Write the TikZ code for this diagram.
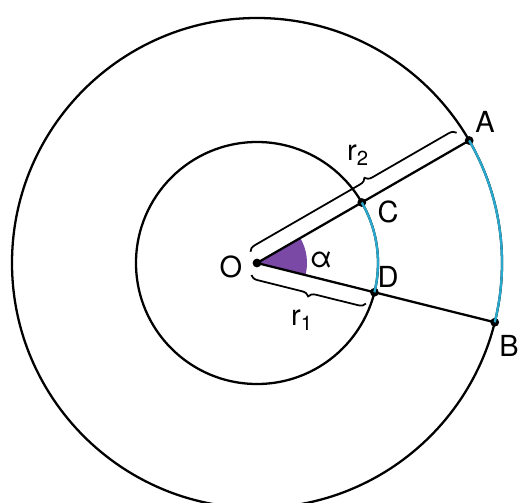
\documentclass[tikz,border=0pt]{standalone}
\usepackage{fontspec}
\setmainfont{TeX Gyre Heros}
\usetikzlibrary{calc,decorations.pathreplacing}
\definecolor{arccyan}{RGB}{40,168,205}
\definecolor{anglepurple}{RGB}{122,72,165}
\tikzset{
  lbl/.style={font=\fontsize{16.5}{18}\selectfont, inner sep=0pt},
  dot/.style={circle, fill=black, inner sep=0pt, minimum size=5pt},
  radbrace/.style={decorate, decoration={brace, amplitude=4pt, aspect=#1}, line width=1pt},
}
\begin{document}
\begin{tikzpicture}[line width=1.3pt]
  \clip (-5.14,-4.78) rectangle (5.32,5.26);
  \coordinate (O) at (0,0);
  % circles and angle
  \draw (O) circle (4.9);
  \draw (O) circle (2.42);
  \fill[anglepurple] (O) -- (-14:1) arc (-14:30:1) -- cycle;
  % points
  \node[dot] (A) at (30:4.9) {};
  \node[dot] (B) at (-14:4.9) {};
  \node[dot] (C) at (30:2.42) {};
  \node[dot] (D) at (-14:2.42) {};
  \draw (O) -- (A.center);
  \draw (O) -- (B.center);
  \draw[arccyan] (D.center) arc (-14:30:2.42);
  \draw[arccyan] (B.center) arc (-14:30:4.9);
  \node[dot] (pO) at (O) {};
  % dimension braces
  \coordinate (r2s) at ($(O)+(120:0.26)$);
  \coordinate (r2e) at ($(30:4.76)+(120:0.26)$);
  \coordinate (r1s) at ($(-14:2.31)+(-104:0.26)$);
  \coordinate (r1e) at ($(-14:-0.05)+(-104:0.26)$);
  \draw[radbrace=0.57] (r2s) -- (r2e);
  \draw[radbrace=0.49] (r1s) -- (r1e);
  % labels
  \node[lbl] (labA) at (4.56,2.82) {A};
  \node[lbl] (labB) at (5.04,-1.66) {B};
  \node[lbl] (labC) at (2.62,1.02) {C};
  \node[lbl] (labD) at (2.62,-0.28) {D};
  \node[lbl] (labO) at (-0.52,-0.08) {O};
  \node[lbl] (labal) at (1.28,0.06) {α};
  \node[lbl] (labr2) at (2.02,2.16) {r\textsubscript{2}};
  \node[lbl] (labr1) at (0.90,-1.14) {r\textsubscript{1}};
\end{tikzpicture}
\end{document}
